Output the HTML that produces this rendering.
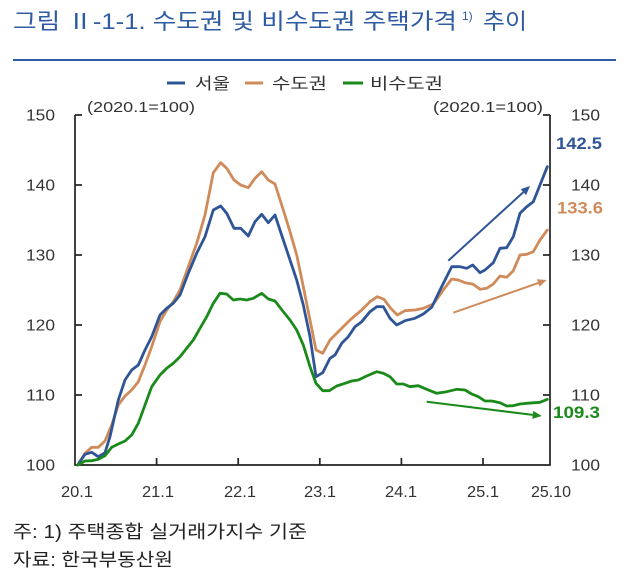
<!DOCTYPE html>
<html><head><meta charset="utf-8"><style>
html,body{margin:0;padding:0;background:#fff;}
svg{display:block;}
text{font-family:"Liberation Sans","Noto Sans CJK KR",sans-serif;}
</style></head><body>
<svg width="640" height="587" viewBox="0 0 640 587" xmlns="http://www.w3.org/2000/svg">
<rect width="640" height="587" fill="#fff"/>
<!-- Title -->
<text x="13" y="29" font-size="22" fill="#2f5ba3" textLength="444" lengthAdjust="spacingAndGlyphs">그림 Ⅱ-1-1. 수도권 및 비수도권 주택가격</text>
<text x="462" y="20" font-size="12" fill="#2f5ba3">1)</text>
<text x="483" y="29" font-size="22" fill="#2f5ba3" textLength="44" lengthAdjust="spacingAndGlyphs">추이</text>
<line x1="13" y1="60" x2="616" y2="60" stroke="#2f5ba3" stroke-width="2"/>

<!-- Legend -->
<line x1="167" y1="83" x2="185" y2="83" stroke="#2f5597" stroke-width="3"/>
<text x="195" y="89" font-size="16" fill="#333" textLength="35" lengthAdjust="spacingAndGlyphs">서울</text>
<line x1="245" y1="83" x2="263" y2="83" stroke="#d08b5b" stroke-width="3"/>
<text x="272" y="89" font-size="16" fill="#333" textLength="55" lengthAdjust="spacingAndGlyphs">수도권</text>
<line x1="343" y1="83" x2="363" y2="83" stroke="#1a8a1a" stroke-width="3"/>
<text x="370" y="89" font-size="16" fill="#333" textLength="73" lengthAdjust="spacingAndGlyphs">비수도권</text>

<!-- units -->
<text x="87" y="112" font-size="15" fill="#333" textLength="108" lengthAdjust="spacingAndGlyphs">(2020.1=100)</text>
<text x="433" y="112" font-size="15" fill="#333" textLength="110" lengthAdjust="spacingAndGlyphs">(2020.1=100)</text>

<!-- Axes -->
<g stroke="#222" stroke-width="1.7" fill="none">
<polyline points="75,115 75,465 550,465 550,115"/>
<line x1="75" y1="115" x2="82" y2="115"/>
<line x1="75" y1="185" x2="82" y2="185"/>
<line x1="75" y1="255" x2="82" y2="255"/>
<line x1="75" y1="325" x2="82" y2="325"/>
<line x1="75" y1="395" x2="82" y2="395"/>
<line x1="550" y1="115" x2="543" y2="115"/>
<line x1="550" y1="185" x2="543" y2="185"/>
<line x1="550" y1="255" x2="543" y2="255"/>
<line x1="550" y1="325" x2="543" y2="325"/>
<line x1="550" y1="395" x2="543" y2="395"/>
<line x1="156.6" y1="465" x2="156.6" y2="458"/>
<line x1="238.2" y1="465" x2="238.2" y2="458"/>
<line x1="319.8" y1="465" x2="319.8" y2="458"/>
<line x1="401.4" y1="465" x2="401.4" y2="458"/>
<line x1="483" y1="465" x2="483" y2="458"/>
</g>

<!-- Y labels -->
<g font-size="15.5" fill="#333">
<text x="26" y="120.5" textLength="29" lengthAdjust="spacingAndGlyphs">150</text>
<text x="26" y="190.5" textLength="29" lengthAdjust="spacingAndGlyphs">140</text>
<text x="26" y="260.5" textLength="29" lengthAdjust="spacingAndGlyphs">130</text>
<text x="26" y="330.5" textLength="29" lengthAdjust="spacingAndGlyphs">120</text>
<text x="26" y="400.5" textLength="29" lengthAdjust="spacingAndGlyphs">110</text>
<text x="26" y="470.5" textLength="29" lengthAdjust="spacingAndGlyphs">100</text>
</g>
<g font-size="15.5" fill="#333">
<text x="571" y="120.5" textLength="29" lengthAdjust="spacingAndGlyphs">150</text>
<text x="571" y="190.5" textLength="29" lengthAdjust="spacingAndGlyphs">140</text>
<text x="571" y="260.5" textLength="29" lengthAdjust="spacingAndGlyphs">130</text>
<text x="571" y="330.5" textLength="29" lengthAdjust="spacingAndGlyphs">120</text>
<text x="571" y="400.5" textLength="29" lengthAdjust="spacingAndGlyphs">110</text>
<text x="571" y="470.5" textLength="29" lengthAdjust="spacingAndGlyphs">100</text>
</g>
<!-- X labels -->
<g font-size="15.5" fill="#333">
<text x="61" y="497" textLength="32" lengthAdjust="spacingAndGlyphs">20.1</text>
<text x="142" y="497" textLength="32" lengthAdjust="spacingAndGlyphs">21.1</text>
<text x="224" y="497" textLength="32" lengthAdjust="spacingAndGlyphs">22.1</text>
<text x="304" y="497" textLength="32" lengthAdjust="spacingAndGlyphs">23.1</text>
<text x="385" y="497" textLength="32" lengthAdjust="spacingAndGlyphs">24.1</text>
<text x="467" y="497" textLength="32" lengthAdjust="spacingAndGlyphs">25.1</text>
<text x="531" y="497" textLength="40" lengthAdjust="spacingAndGlyphs">25.10</text>
</g>

<!-- Series -->
<g fill="none" stroke-width="2.8" stroke-linejoin="round" stroke-linecap="round">
<polyline stroke="#d08b5b" points="77.7,465 85,453.3 91.7,447.3 98.3,447.3 105,441 111.7,425 118.3,405 125,396 131.7,390 138.3,381.7 145,365 151.7,346.7 160,321.7 166.7,310 173.3,301.7 180,290 188.3,266.7 196.7,243.3 205,215 213.3,172.7 220.7,162.7 226.7,168.3 234,180 240.7,185 248.3,187.7 255,178.3 261.7,171.7 268.3,180 275,184 283.3,210 290,231.7 296.7,255 303.3,286.7 310,320 316,350 322.7,353.3 330,340 340,330 350,320 361.7,310 370,301.7 377.3,296.7 384,299.3 390.7,308.3 397.3,315 405,310.7 415,310 423.3,308.3 433.3,304 443.3,290 451.7,279 458.3,280 465,282.7 472.7,284 480,289.3 486.7,288.3 493.3,284 500,276 506.7,277.3 513.3,270.7 520,255 526.7,254.3 533.3,251.7 540,240 547.3,230"/>
<polyline stroke="#2f5597" points="77.7,465 85,454.3 91.7,452.3 98.3,456.7 105,452.7 110,436.7 118.3,400 125,380 131.7,370 138.3,365 145,350 151.7,336.7 160,315 166.7,308.3 173.3,303.3 180,295 188.3,273.3 196.7,253.3 205,236.7 213.3,210 220.7,206 226.7,213.3 234,228.3 240.7,228.3 248.3,236 255,221.7 261.7,214.3 268.3,222.7 275,215 283.3,240 290,260 296.7,280 303.3,305 310,336.7 316,376.7 322.7,372.7 330,358.3 335,355 341.7,343.3 348.3,336.7 355,326.7 361.7,321.7 370,311.7 376.7,306.7 383.3,306.7 390,318.3 396.7,325 405,320.7 415,318.3 423.3,314 431.7,307.3 440,290 451.7,266.7 460,266.7 466.7,268.3 472.7,265 480,272.7 485,270 493.3,262.7 500,248.3 506.7,247.7 513.3,236.7 520,213.3 526.7,206.7 533.3,201.7 540,185 547.3,166.7"/>
<polyline stroke="#1a8a1a" points="77.7,465 85,461 91.7,460.7 98.3,459.3 105,455.7 111.7,447.3 118.3,444 125,441 131.7,435 138.3,423.3 145,405 151.7,386.7 160,375 166.7,368.3 173.3,363.3 180,356.7 186.7,348.3 193.3,340 200,328.3 206.7,316.7 213.3,303.3 220,293.3 226.7,294 233.3,300 240,299 246.7,300 253.3,298.3 261.7,293.3 268.3,299 275,301 283.3,311.7 290,320 296.7,330 303.3,345 310,366.7 316,383.3 322.7,390.7 329.3,390.7 336.7,386 345,383.3 351.7,381 358.3,380 366.7,376 376.7,371.7 383.3,373.3 390,376.7 396.7,384 403.3,384 410,386.7 418.3,385.7 426.7,389.3 436.7,393.3 446.7,391.7 456.7,389.3 465,390 471.7,394 478.3,396.7 485,401 491.7,401 500,402.7 506.7,406 513.3,405.7 520,404 526.7,403.3 540,402.3 547.3,399.3"/>
</g>

<!-- Arrows -->
<line x1="448.3" y1="260.7" x2="523.4" y2="192.1" stroke="#2f5597" stroke-width="2"/>
<polygon points="530,186 526.1,195.1 520.7,189.1" fill="#2f5597"/>
<line x1="453.3" y1="312.7" x2="538.2" y2="283" stroke="#d08b5b" stroke-width="2"/>
<polygon points="546.7,280 539.5,286.8 536.9,279.2" fill="#d08b5b"/>
<line x1="426.7" y1="401.7" x2="532.8" y2="414.9" stroke="#1a8a1a" stroke-width="2"/>
<polygon points="541.7,416 532.3,418.9 533.3,410.9" fill="#1a8a1a"/>

<!-- End labels -->
<text x="556" y="149" font-size="16.5" font-weight="bold" fill="#2f5597" textLength="46" lengthAdjust="spacingAndGlyphs">142.5</text>
<text x="557" y="213.5" font-size="16.5" font-weight="bold" fill="#d08b5b" textLength="46" lengthAdjust="spacingAndGlyphs">133.6</text>
<text x="553" y="418" font-size="16.5" font-weight="bold" fill="#1a8a1a" textLength="47" lengthAdjust="spacingAndGlyphs">109.3</text>

<!-- Footnotes -->
<text x="13" y="538" font-size="18" fill="#222" textLength="294" lengthAdjust="spacingAndGlyphs">주: 1) 주택종합 실거래가지수 기준</text>
<text x="13" y="566" font-size="18" fill="#222" textLength="160" lengthAdjust="spacingAndGlyphs">자료: 한국부동산원</text>
</svg>
</body></html>
